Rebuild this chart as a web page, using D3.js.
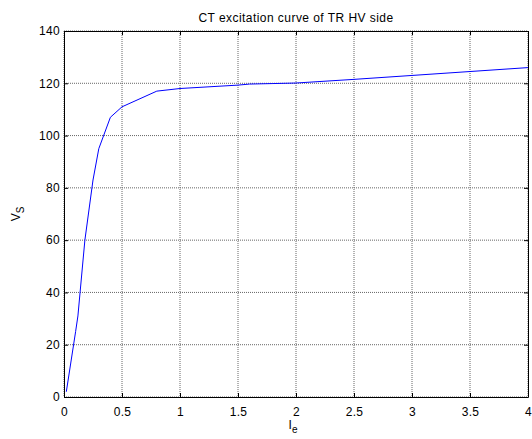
<!DOCTYPE html>
<html>
<head>
<meta charset="utf-8">
<script src="https://cdn.jsdelivr.net/npm/d3@7"></script>
<style>
  body { margin: 0; background: #fff; }
  text { font-family: "Liberation Sans", Arial, sans-serif; fill: #000; }
</style>
</head>
<body>
<div id="chart"></div>
<script>
// chart data
var currentIe = [0.02, 0.1, 0.12, 0.18, 0.25, 0.3, 0.4, 0.5, 0.8, 1.0, 1.5, 1.6, 1.8, 2.0, 2.5, 3.0, 3.5, 4.0];
var voltageVs = [2, 25, 31, 60, 83, 95, 107, 111, 117, 118, 119.3, 119.7, 119.9, 120.1, 121.5, 123, 124.5, 126];
var xTicks = [0, 0.5, 1, 1.5, 2, 2.5, 3, 3.5, 4];
var yTicks = [0, 20, 40, 60, 80, 100, 120, 140];

var svgWidth = 532;
var svgHeight = 439;
var margin = { top: 31, right: 4, bottom: 42, left: 64 };
var width = svgWidth - margin.left - margin.right;
var height = svgHeight - margin.top - margin.bottom;

var svg = d3.select("#chart").append("svg").attr("width", svgWidth).attr("height", svgHeight);
var chartGroup = svg.append("g").attr("transform", `translate(${margin.left}, ${margin.top})`);

var xScale = d3.scaleLinear().domain([0, 4]).range([0, width]);
var yScale = d3.scaleLinear().domain([0, 140]).range([height, 0]);

// dotted grid
chartGroup.selectAll(".gx").data(xTicks).enter().append("line")
  .attr("x1", d => xScale(d)).attr("x2", d => xScale(d))
  .attr("y1", 0).attr("y2", height)
  .attr("stroke", "#666").attr("stroke-width", 1).attr("stroke-dasharray", "1,1");
chartGroup.selectAll(".gy").data(yTicks).enter().append("line")
  .attr("x1", 0).attr("x2", width)
  .attr("y1", d => yScale(d)).attr("y2", d => yScale(d))
  .attr("stroke", "#666").attr("stroke-width", 1).attr("stroke-dasharray", "1,1");

// axes, ticks pointing inward like matlab
var bottomAxis = d3.axisBottom(xScale).tickValues(xTicks).tickSizeInner(-4).tickSizeOuter(0).tickPadding(8).tickFormat(d3.format("~g"));
var leftAxis = d3.axisLeft(yScale).tickValues(yTicks).tickSizeInner(-4).tickSizeOuter(0).tickPadding(4);
var topAxis = d3.axisTop(xScale).tickValues(xTicks).tickSizeInner(-4).tickSizeOuter(0).tickFormat("");
var rightAxis = d3.axisRight(yScale).tickValues(yTicks).tickSizeInner(-4).tickSizeOuter(0).tickFormat("");

var xAxis = chartGroup.append("g").attr("transform", `translate(0, ${height})`).call(bottomAxis);
var yAxis = chartGroup.append("g").call(leftAxis);
chartGroup.append("g").call(topAxis);
chartGroup.append("g").attr("transform", `translate(${width}, 0)`).call(rightAxis);

chartGroup.selectAll(".domain").attr("stroke", "#000").attr("stroke-width", 1);
chartGroup.selectAll(".tick line").attr("stroke", "#000");
chartGroup.selectAll(".tick text").style("font-size", "12px").style("letter-spacing", "0.3px").attr("fill", "#000");
xAxis.selectAll(".tick text").attr("dy", "0.9em");

// the curve
var line = d3.line().x(d => xScale(d[0])).y(d => yScale(d[1]));
chartGroup.append("path")
  .datum(currentIe.map((x, i) => [x, voltageVs[i]]))
  .attr("d", line)
  .attr("fill", "none")
  .attr("stroke", "#0000ff")
  .attr("stroke-width", 1);

// title & labels
svg.append("text").attr("x", margin.left + width / 2).attr("y", 22)
  .style("font-size", "12px").style("letter-spacing", "0.45px").attr("text-anchor", "middle")
  .text("CT excitation curve of TR HV side");

var xl = svg.append("text").attr("x", margin.left + width / 2 - 3).attr("y", 429)
  .style("font-size", "12px").attr("text-anchor", "middle");
xl.append("tspan").text("I");
xl.append("tspan").attr("dy", 4).style("font-size", "10px").text("e");

var yl = svg.append("text").attr("transform", `translate(20, ${margin.top + height / 2}) rotate(-90)`)
  .style("font-size", "12px").attr("text-anchor", "middle");
yl.append("tspan").text("V");
yl.append("tspan").attr("dy", 4).style("font-size", "10px").text("S");
</script>
</body>
</html>
